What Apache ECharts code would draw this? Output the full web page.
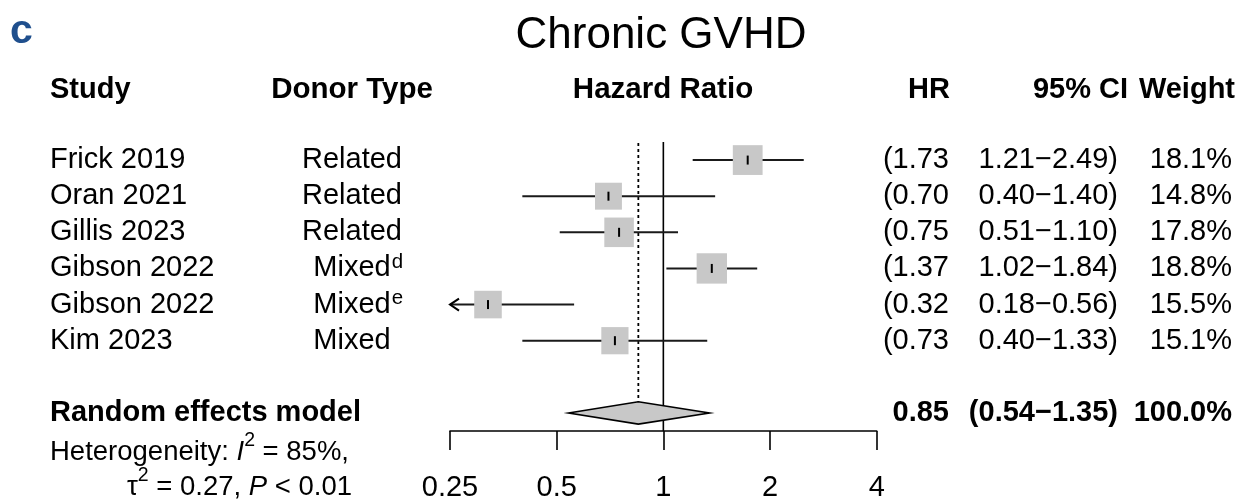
<!DOCTYPE html>
<html><head><meta charset="utf-8">
<script src="https://cdn.jsdelivr.net/npm/echarts@6/dist/echarts.min.js"></script>
<style>html,body{margin:0;padding:0;background:#fff}#c{width:1242px;height:502px}</style>
</head><body><div id="c"></div>
<script>
// ---- data ----
const studies = ['Frick 2019', 'Oran 2021', 'Gillis 2023', 'Gibson 2022', 'Gibson 2022', 'Kim 2023'];
const donorTypes = ['Related', 'Related', 'Related', 'Mixed', 'Mixed', 'Mixed'];
const donorNotes = ['', '', '', 'd', 'e', ''];
const hrValues = [1.73, 0.70, 0.75, 1.37, 0.32, 0.73];
const ciLower = [1.21, 0.40, 0.51, 1.02, 0.18, 0.40];
const ciUpper = [2.49, 1.40, 1.10, 1.84, 0.56, 1.33];
const weights = [18.1, 14.8, 17.8, 18.8, 15.5, 15.1];
const pooledHR = 0.85;
const pooledLower = 0.54;
const pooledUpper = 1.35;
const pooledWeight = 100.0;
const xTicks = [0.25, 0.5, 1, 2, 4];
const heterogeneity = { I2: '85%', tau2: '0.27', p: '< 0.01' };

// ---- drawing ----
const FONT = '"Liberation Sans", Arial, Helvetica, sans-serif';
const FS = 29;
const X_MIN = xTicks[0], X_MAX = xTicks[xTicks.length - 1];
const POOLED_ROW = studies.length + 1;
const DIAMOND_HALF = 0.31;
const chart = echarts.init(document.getElementById('c'), null, { renderer: 'canvas' });

const measureCtx = document.createElement('canvas').getContext('2d');
function measure(text, fs, italic, bold) {
  measureCtx.font = (italic ? 'italic ' : '') + (bold ? 'bold ' : '') + fs + 'px ' + FONT;
  return measureCtx.measureText(text).width;
}
function txt(x, y, text, opt) {
  return {
    type: 'text', x: x, y: y,
    style: Object.assign({
      text: text, fill: '#000', fontFamily: FONT, fontSize: FS,
      align: 'left', verticalAlign: 'middle'
    }, opt || {})
  };
}
// sequence of text segments laid out left to right; seg: {t, fs, it, dy}
function seq(x, y, segs) {
  const out = [];
  let cx = x;
  segs.forEach(s => {
    const fs = s.fs || FS;
    out.push(txt(cx, y + (s.dy || 0), s.t, { fontSize: fs, fontStyle: s.it ? 'italic' : 'normal' }));
    cx += measure(s.t, fs, s.it, false);
  });
  return out;
}

const studyData = studies.map((s, i) => [hrValues[i], i]);
const HET_FS = 27.5, SUP_FS = 19.5;

const option = {
  animation: false,
  backgroundColor: '#fff',
  grid: { left: 450, top: 142, width: 426.7, height: 289.3 },
  xAxis: {
    type: 'log', logBase: 2, min: X_MIN, max: X_MAX,
    axisLine: { show: true, onZero: false, lineStyle: { color: '#000', width: 1.6 } },
    axisTick: { show: true, length: 19, lineStyle: { color: '#000', width: 1.6 } },
    axisLabel: {
      show: true, color: '#000', fontFamily: FONT, fontSize: FS, margin: 42,
      showMinLabel: true, showMaxLabel: true,
      formatter: v => String(+(+v).toFixed(2))
    },
    splitLine: { show: false }
  },
  yAxis: { type: 'value', min: -0.5, max: 7.5, inverse: true, show: false },
  graphic: [
    { type: 'text', left: 10, top: 11, style: { text: 'c', fill: '#1f4f8d', fontFamily: FONT, fontSize: 41, fontWeight: 'bold' } },
    txt(661, 36, 'Chronic GVHD', { fontSize: 44, align: 'center' }),
    txt(50, 90, 'Study', { fontWeight: 'bold' }),
    txt(352, 90, 'Donor Type', { fontWeight: 'bold', align: 'center', fontSize: 29.5 }),
    txt(663, 90, 'Hazard Ratio', { fontWeight: 'bold', align: 'center', fontSize: 29.5 }),
    txt(950, 90, 'HR', { fontWeight: 'bold', align: 'right' }),
    txt(1128, 90, '95% CI', { fontWeight: 'bold', align: 'right' }),
    txt(1235, 90, 'Weight', { fontWeight: 'bold', align: 'right' })
  ].concat(
    seq(50, 452, [
      { t: 'Heterogeneity: ', fs: HET_FS }, { t: 'I', fs: HET_FS, it: true },
      { t: '2', fs: SUP_FS, dy: -11 }, { t: ' = ' + heterogeneity.I2 + ',', fs: HET_FS }
    ]),
    seq(127, 487, [
      { t: 'τ', fs: HET_FS }, { t: '2', fs: SUP_FS, dy: -11 },
      { t: ' = ' + heterogeneity.tau2 + ', ', fs: HET_FS }, { t: 'P', fs: HET_FS, it: true },
      { t: ' ' + heterogeneity.p, fs: HET_FS }
    ])
  ),
  series: [
    {
      // reference lines (null effect and pooled estimate)
      type: 'custom', z: 1, silent: true,
      data: [[1, 0]],
      renderItem(params, api) {
        const top = api.coord([1, -0.5])[1];
        const axisY = api.coord([1, 7.5])[1];
        const x1 = api.coord([1, 0])[0];
        const xp = api.coord([pooledHR, 0])[0];
        const dTop = api.coord([pooledHR, POOLED_ROW - DIAMOND_HALF])[1];
        return { type: 'group', children: [
          { type: 'line', shape: { x1: x1, y1: top, x2: x1, y2: axisY }, style: { stroke: '#000', lineWidth: 1.6 } },
          { type: 'line', shape: { x1: xp, y1: top + 1, x2: xp, y2: dTop }, style: { stroke: '#000', lineWidth: 1.8, lineDash: [3, 3] } }
        ]};
      }
    },
    {
      // study estimates
      type: 'custom', z: 3, silent: true,
      data: studyData,
      renderItem(params, api) {
        const i = params.dataIndex;
        const p = api.coord([hrValues[i], i]);
        const y = p[1], xc = p[0];
        const xl = api.coord([Math.max(ciLower[i], X_MIN), i])[0];
        const xh = api.coord([Math.min(ciUpper[i], X_MAX), i])[0];
        const s = 7 * Math.sqrt(weights[i]);
        const ch = [
          { type: 'line', shape: { x1: xl, y1: y, x2: xh, y2: y }, style: { stroke: '#1a1a1a', lineWidth: 2 } },
          { type: 'rect', shape: { x: xc - s / 2, y: y - s / 2, width: s, height: s }, style: { fill: '#c8c8c8' } },
          { type: 'line', shape: { x1: xc, y1: y - 4.5, x2: xc, y2: y + 4.5 }, style: { stroke: '#000', lineWidth: 2 } }
        ];
        if (ciLower[i] < X_MIN) {
          ch.push({ type: 'polyline', shape: { points: [[xl + 9, y - 6], [xl, y], [xl + 9, y + 6]] }, style: { stroke: '#000', lineWidth: 2, fill: null } });
        }
        return { type: 'group', children: ch };
      }
    },
    {
      // pooled diamond
      type: 'custom', z: 3, silent: true,
      data: [[pooledHR, POOLED_ROW]],
      renderItem(params, api) {
        const l = api.coord([pooledLower, POOLED_ROW]);
        const r = api.coord([pooledUpper, POOLED_ROW]);
        const t = api.coord([pooledHR, POOLED_ROW - DIAMOND_HALF]);
        const b = api.coord([pooledHR, POOLED_ROW + DIAMOND_HALF]);
        return { type: 'polygon', shape: { points: [l, t, r, b] }, style: { fill: '#c8c8c8', stroke: '#000', lineWidth: 1.6 } };
      }
    },
    {
      // table text, row-aligned through the y axis
      type: 'custom', z: 5, silent: true,
      data: studyData,
      renderItem(params, api) {
        const i = params.dataIndex;
        const y = api.coord([1, i])[1];
        const note = donorNotes[i];
        const ch = [
          txt(50, y, studies[i]),
          txt(352, y, donorTypes[i], { align: 'center' }),
          txt(949, y, '(' + hrValues[i].toFixed(2), { align: 'right' }),
          txt(1118, y, ciLower[i].toFixed(2) + '\u2212' + ciUpper[i].toFixed(2) + ')', { align: 'right' }),
          txt(1232, y, weights[i].toFixed(1) + '%', { align: 'right' })
        ];
        if (note) {
          const w = measure(donorTypes[i], FS, false, false);
          ch.push(txt(352 + w / 2 + 1, y - 6, note, { fontSize: 20.5 }));
        }
        return { type: 'group', children: ch };
      }
    },
    {
      type: 'custom', z: 5, silent: true,
      data: [[pooledHR, POOLED_ROW]],
      renderItem(params, api) {
        const y = api.coord([1, POOLED_ROW])[1];
        const b = { fontWeight: 'bold' };
        return { type: 'group', children: [
          txt(50, y, 'Random effects model', b),
          txt(949, y, pooledHR.toFixed(2), Object.assign({ align: 'right' }, b)),
          txt(1118, y, '(' + pooledLower.toFixed(2) + '\u2212' + pooledUpper.toFixed(2) + ')', Object.assign({ align: 'right' }, b)),
          txt(1232, y, pooledWeight.toFixed(1) + '%', Object.assign({ align: 'right' }, b))
        ]};
      }
    }
  ]
};
chart.setOption(option);
</script>
</body></html>
